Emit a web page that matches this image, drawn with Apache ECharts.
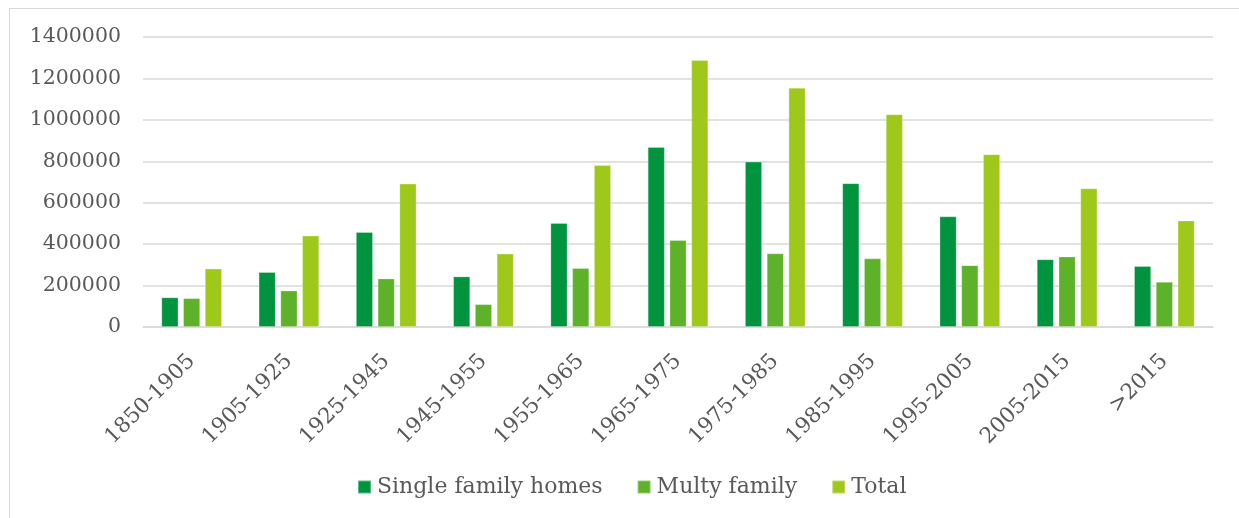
<!DOCTYPE html>
<html>
<head>
<meta charset="utf-8">
<script src="https://cdn.jsdelivr.net/npm/echarts@6/dist/echarts.min.js"></script>
<style>
  html, body { margin: 0; padding: 0; background: #fff; }
  #frame { position: absolute; left: 9px; top: 8px; width: 1250px; height: 530px;
           border-left: 1.5px solid #d9d9d9; border-top: 1.5px solid #d9d9d9; }
  #chart { position: absolute; left: 0; top: 0; width: 1239px; height: 518px; }
</style>
</head>
<body>
<div id="frame"></div>
<div id="chart"></div>
<script>
// Building stock by construction period
const periods = ['1850-1905', '1905-1925', '1925-1945', '1945-1955', '1955-1965',
                 '1965-1975', '1975-1985', '1985-1995', '1995-2005', '2005-2015', '>2015'];
const singleFamily = [143000, 265000, 458000, 244000, 502000, 869000, 798000, 694000, 534000, 327000, 294000];
const multiFamily  = [139000, 176000, 234000, 110000, 284000, 419000, 355000, 331000, 298000, 340000, 218000];
const totals       = [282000, 441000, 692000, 354000, 782000, 1288000, 1155000, 1027000, 834000, 669000, 514000];
const seriesNames = ['Single family homes', 'Multy family', 'Total'];
const colors = ['#00943f', '#5eb229', '#9ec91a'];

const font = 'DejaVu Serif';
const textColor = '#595959';
const chart = echarts.init(document.getElementById('chart'), null, { renderer: 'canvas' });

const mkBar = (name, data, color) => ({
  name: name,
  type: 'bar',
  data: data,
  barWidth: 17,
  barGap: '28%',
  itemStyle: { color: color, borderColor: 'rgba(255,255,255,0.35)', borderWidth: 0.8 },
  emphasis: { disabled: true }
});

chart.setOption({
  animation: false,
  color: colors,
  textStyle: { fontFamily: font },
  grid: { left: 143, right: 26, top: 37, bottom: 191, containLabel: false },
  legend: {
    bottom: 20,
    left: 357,
    padding: 0,
    itemWidth: 13,
    itemHeight: 13,
    itemGap: 34,
    icon: 'rect',
    textStyle: { fontFamily: font, fontSize: 22, color: textColor, padding: [0, 0, 0, 1] },
    data: seriesNames
  },
  xAxis: {
    type: 'category',
    data: periods,
    axisLine: { show: true, lineStyle: { color: '#d9d9d9', width: 1.5 } },
    axisTick: { show: false },
    axisLabel: {
      rotate: 45,
      interval: 0,
      margin: 31,
      fontFamily: font,
      fontSize: 21.5,
      color: textColor
    }
  },
  yAxis: {
    type: 'value',
    min: 0,
    max: 1400000,
    interval: 200000,
    axisLine: { show: false },
    axisTick: { show: false },
    splitLine: { lineStyle: { color: '#d9d9d9', width: 1.5 } },
    axisLabel: {
      margin: 22,
      fontFamily: font,
      fontSize: 20.5,
      color: textColor,
      formatter: (v) => String(v)
    }
  },
  series: [
    mkBar(seriesNames[0], singleFamily, colors[0]),
    mkBar(seriesNames[1], multiFamily, colors[1]),
    mkBar(seriesNames[2], totals, colors[2])
  ]
});
</script>
</body>
</html>
